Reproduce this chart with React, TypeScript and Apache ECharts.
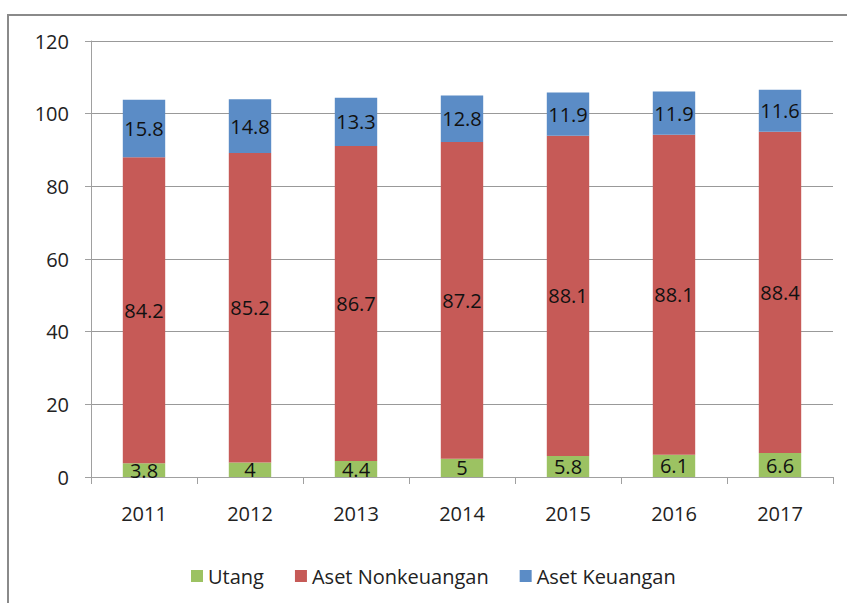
import React, { useEffect, useRef } from "react";
import * as echarts from "echarts";

const years = ["2011", "2012", "2013", "2014", "2015", "2016", "2017"];
const utang = [3.8, 4, 4.4, 5, 5.8, 6.1, 6.6];
const asetNonkeuangan = [84.2, 85.2, 86.7, 87.2, 88.1, 88.1, 88.4];
const asetKeuangan = [15.8, 14.8, 13.3, 12.8, 11.9, 11.9, 11.6];

const FONT = "Open Sans";

export default function App() {
  const ref = useRef<HTMLDivElement>(null);
  useEffect(() => {
    if (!ref.current) return;
    const chart = echarts.init(ref.current, null, { renderer: "svg" });
    const label = {
      show: true,
      position: "inside" as const,
      color: "#111",
      fontSize: 20,
      fontFamily: FONT,
    };
    const mk = (name: string, data: number[], color: string) => ({
      name,
      type: "bar" as const,
      stack: "total",
      data,
      barWidth: "40%",
      itemStyle: { color },
      label,
    });
    chart.setOption({
      animation: false,
      backgroundColor: "#ffffff",
      textStyle: { fontFamily: FONT },
      graphic: [
        {
          type: "rect",
          shape: { x: 8, y: 15, width: 900, height: 700 },
          style: { fill: "none", stroke: "#8a8a8a", lineWidth: 2 },
          silent: true,
        },
      ],
      grid: { left: 91, right: 14, top: 41, bottom: 126, containLabel: false },
      legend: {
        left: 186,
        top: 561,
        itemWidth: 12,
        itemHeight: 12,
        itemGap: 31,
        icon: "rect",
        textStyle: { fontSize: 20, color: "#222", fontFamily: FONT },
        data: ["Utang", "Aset Nonkeuangan", "Aset Keuangan"],
      },
      xAxis: {
        type: "category",
        data: years,
        axisLine: { show: true, lineStyle: { color: "#a0a0a0", width: 1 } },
        axisTick: { show: true, length: 7, lineStyle: { color: "#a0a0a0" } },
        axisLabel: { color: "#222", fontSize: 20, margin: 26, fontFamily: FONT },
      },
      yAxis: {
        type: "value",
        min: 0,
        max: 120,
        interval: 20,
        axisLine: { show: true, lineStyle: { color: "#a0a0a0", width: 1 } },
        axisTick: { show: true, length: 6, lineStyle: { color: "#a0a0a0" } },
        axisLabel: { color: "#222", fontSize: 20, margin: 22, fontFamily: FONT },
        splitLine: { show: true, lineStyle: { color: "#999", width: 1 } },
      },
      series: [
        mk("Utang", utang, "#9cc262"),
        mk("Aset Nonkeuangan", asetNonkeuangan, "#c65a57"),
        mk("Aset Keuangan", asetKeuangan, "#5b8cc6"),
      ],
    });
    return () => chart.dispose();
  }, []);
  return (
    <div
      ref={ref}
      style={{ position: "fixed", left: 0, top: 0, width: 847, height: 603 }}
    />
  );
}
